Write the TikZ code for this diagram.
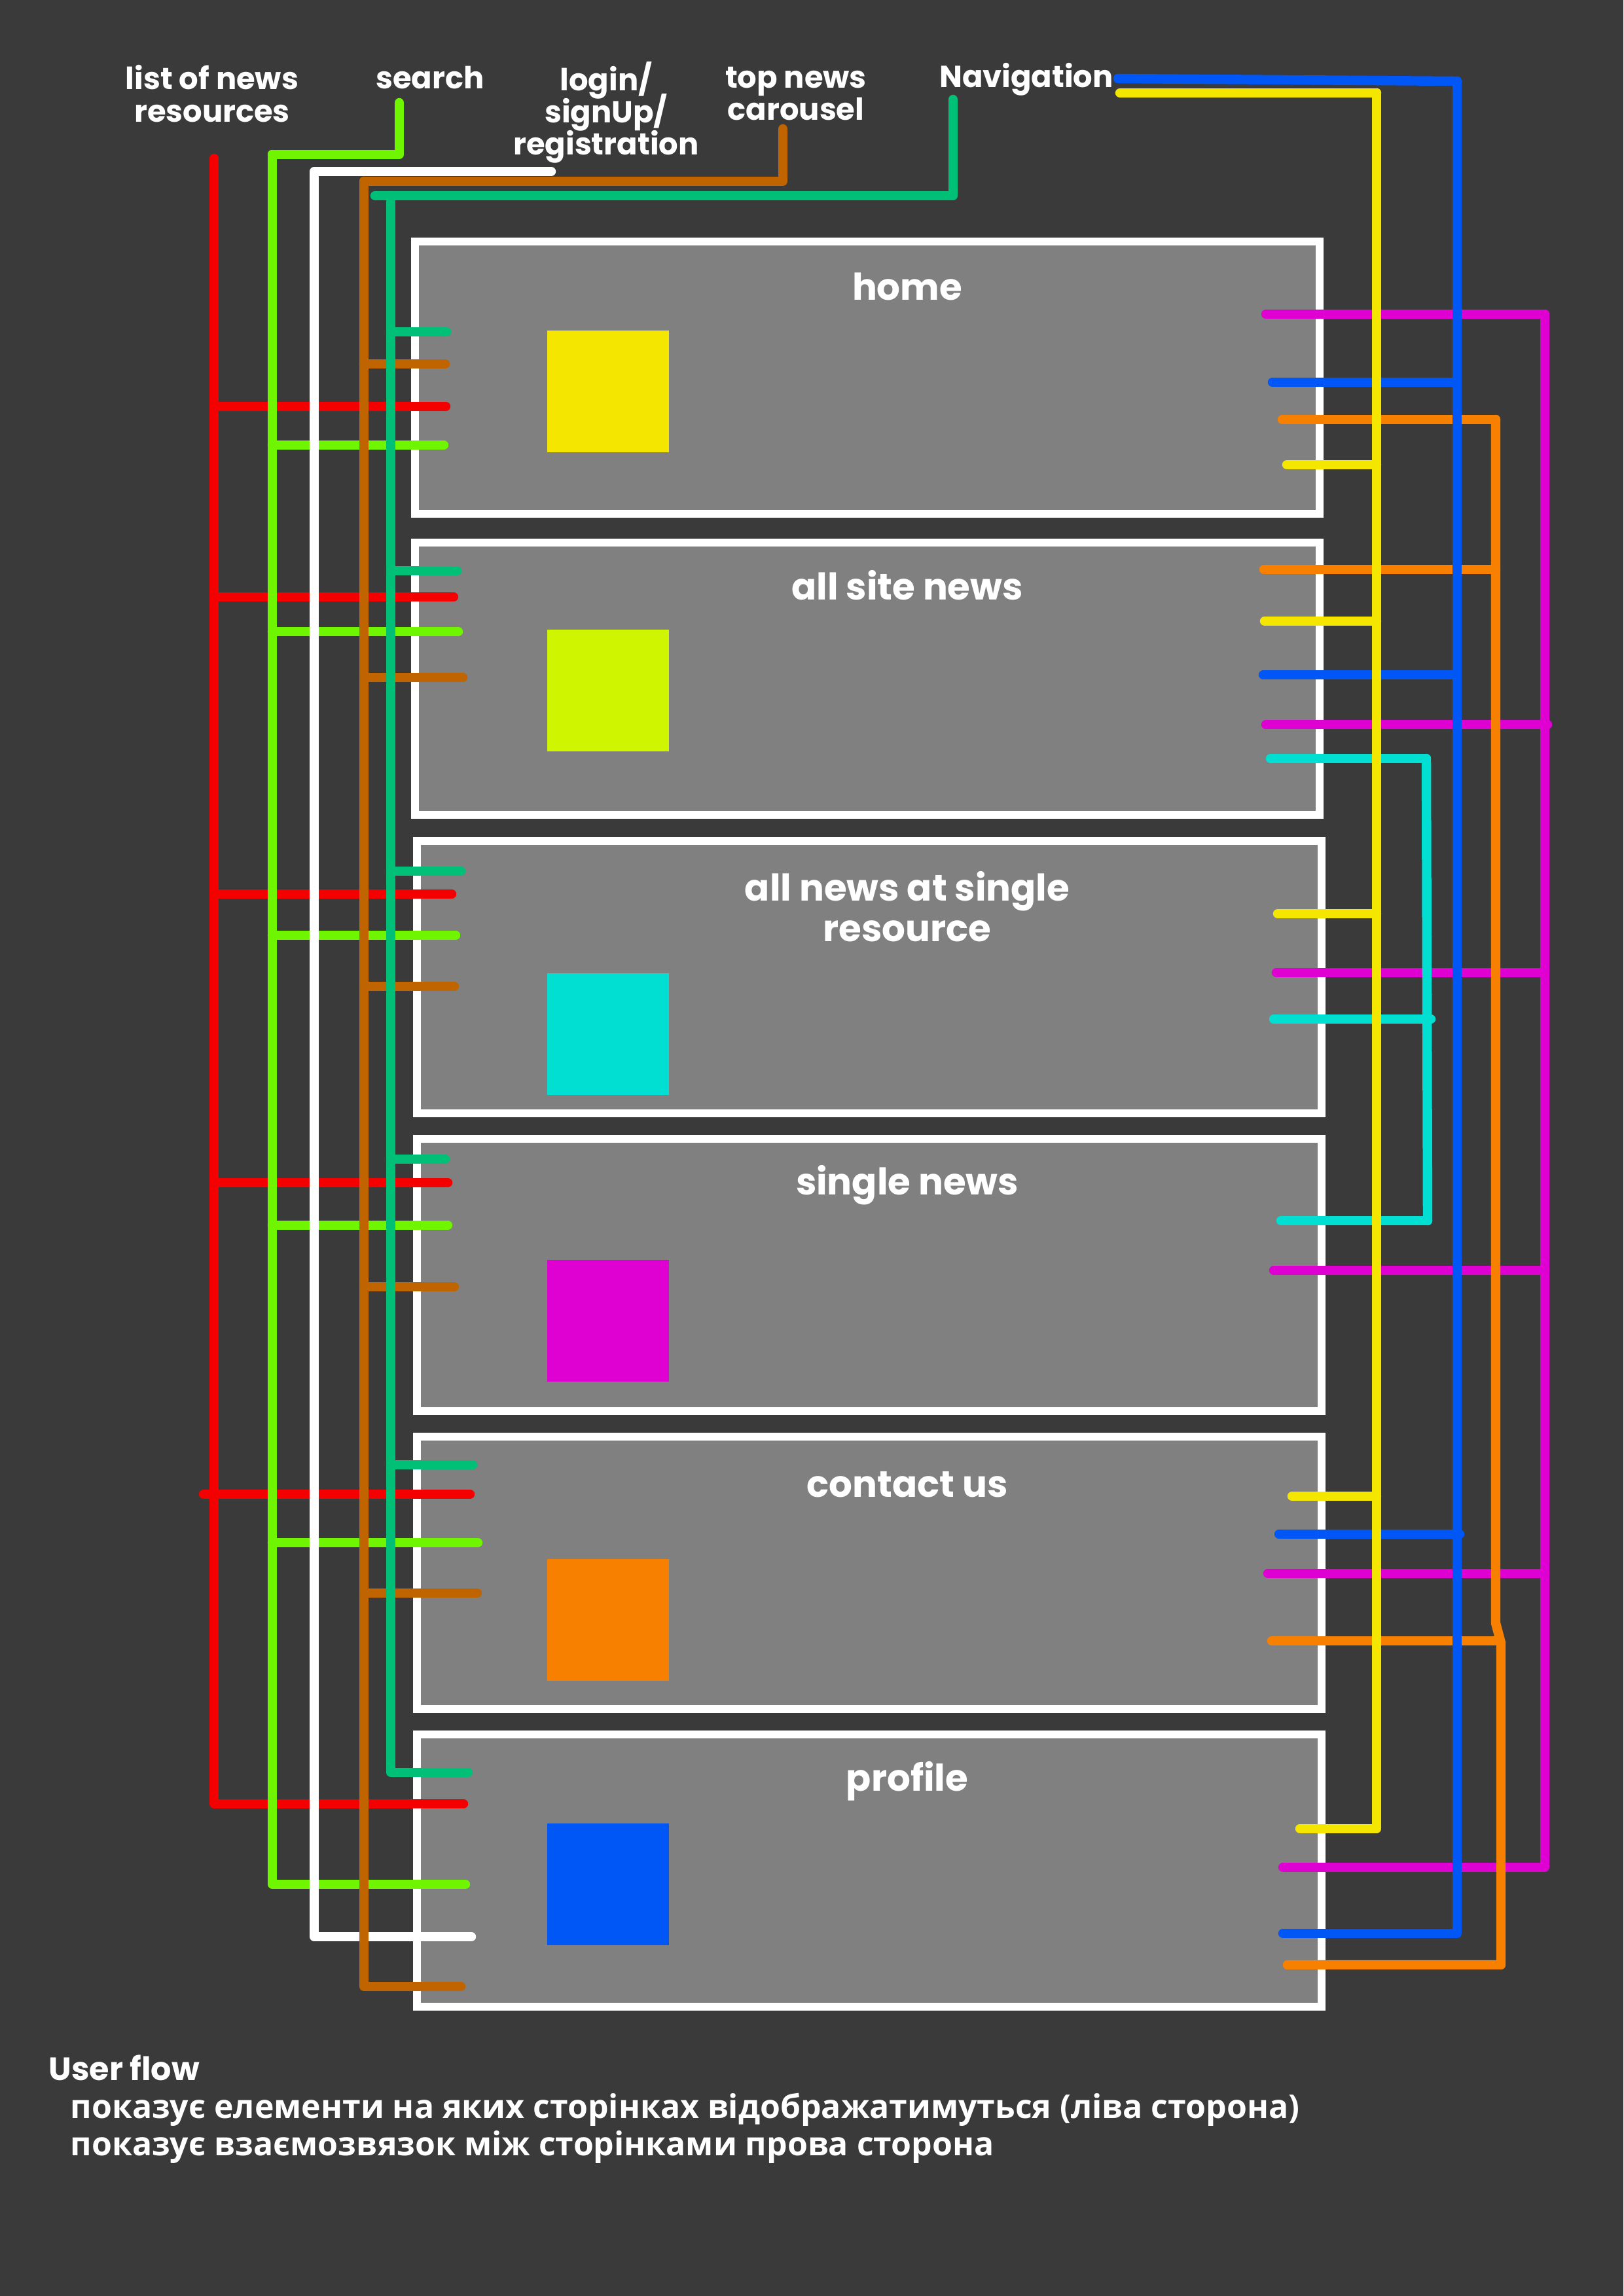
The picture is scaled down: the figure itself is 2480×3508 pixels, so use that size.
\documentclass[tikz,border=0pt]{standalone}
\usepackage{fontspec}
\setmainfont{Poppins}
\newfontfamily\cyrfont{Open Sans}
\newcommand\tightskip{\lineskiplimit-20pt\relax}
\definecolor{bgdark}{HTML}{3A3A3A}
\definecolor{pagegray}{HTML}{808080}
\definecolor{linkred}{HTML}{F50000}
\definecolor{linklime}{HTML}{6FF500}
\definecolor{linkbrown}{HTML}{C06400}
\definecolor{linkgreen}{HTML}{00C078}
\definecolor{linkyellow}{HTML}{F5E600}
\definecolor{linkblue}{HTML}{0057F5}
\definecolor{linkorange}{HTML}{F78000}
\definecolor{linkcyan}{HTML}{00DFD2}
\definecolor{linkmagenta}{HTML}{DF00D2}
\definecolor{linkchart}{HTML}{D0F500}

\begin{document}
\begin{tikzpicture}[x=0.01cm, y=-0.01cm,
  page/.style={draw=white, line width=3.4pt, fill=pagegray, minimum width=13.82cm, minimum height=4.15cm},
  icon/.style={minimum size=1.86cm, inner sep=0pt},
  title/.style={text=white, font=\fontsize{16}{17.5}\selectfont\bfseries, align=center, inner sep=0pt},
  toplbl/.style={text=white, font=\fontsize{13.2}{14}\selectfont\bfseries\tightskip, align=center, inner sep=0pt},
  note/.style={text=white, anchor=base west, inner sep=0pt},
  wire/.style={line width=4.1pt, line cap=round, line join=round}]
  % Background
  \fill[bgdark] (0,0) rectangle (2480,3508);
  \useasboundingbox (0,0) rectangle (2480,3508);

  % Top labels
  \node[toplbl] (resources) at (324,143) {list of news\\resources};
  \node[toplbl] (search) at (657,119) {search};
  \node[toplbl] (login) at (926,172) {login/\\signUp/\\registration};
  \node[toplbl] (carousel) at (1216,143) {top news\\carousel};
  \node[toplbl] (navigation) at (1568,121) {Navigation};

  % Pages
  \node[page] (home) at (1325,577) {};
  \node[page] (allnews) at (1325,1037) {};
  \node[page] (resnews) at (1328,1493) {};
  \node[page] (single) at (1328,1948) {};
  \node[page] (contact) at (1328,2403) {};
  \node[page] (profile) at (1328,2858) {};

  \node[icon, fill=linkyellow] (homeicon) at (929,598) {};
  \node[icon, fill=linkchart] (allnewsicon) at (929,1055) {};
  \node[icon, fill=linkcyan] (resnewsicon) at (929,1580) {};
  \node[icon, fill=linkmagenta] (singleicon) at (929,2018) {};
  \node[icon, fill=linkorange] (contacticon) at (929,2475) {};
  \node[icon, fill=linkblue] (profileicon) at (929,2879) {};

  \node[title] (hometitle) at (1386,438) {home};
  \node[title] (allnewstitle) at (1386,894) {all site news};
  \node[title] (resnewstitle) at (1386,1385) {all news at single\\resource};
  \node[title] (singletitle) at (1386,1811) {single news};
  \node[title] (contacttitle) at (1386,2268) {contact us};
  \node[title] (profiletitle) at (1386,2721) {profile};

  % Left: list of news resources
  \draw[wire, linkred] (327,621) -- (681,621);
  \draw[wire, linkred] (327,912) -- (693,912);
  \draw[wire, linkred] (327,1366) -- (690,1366);
  \draw[wire, linkred] (327,1807) -- (684,1807);
  \draw[wire, linkred] (311,2283) -- (718,2283);
  \draw[wire, linkred] (327,242) -- (327,2756) -- (708,2756);

  % Left: search
  \draw[wire, linklime] (610,157) -- (610,236) -- (416,236);
  \draw[wire, linklime] (416,680) -- (678,680);
  \draw[wire, linklime] (416,965) -- (700,965);
  \draw[wire, linklime] (416,1429) -- (696,1429);
  \draw[wire, linklime] (416,1872) -- (684,1872);
  \draw[wire, linklime] (416,2357) -- (730,2357);
  \draw[wire, linklime] (416,236) -- (416,2879) -- (711,2879);

  % Left: login
  \draw[wire, white] (842,262) -- (480,262) -- (480,2959) -- (720,2959);

  % Left: top news carousel
  \draw[wire, linkbrown] (1196,197) -- (1196,277) -- (556,277);
  \draw[wire, linkbrown] (556,556) -- (680,556);
  \draw[wire, linkbrown] (556,1035) -- (707,1035);
  \draw[wire, linkbrown] (556,1507) -- (694,1507);
  \draw[wire, linkbrown] (556,1966) -- (694,1966);
  \draw[wire, linkbrown] (556,2434) -- (729,2434);
  \draw[wire, linkbrown] (556,277) -- (556,3035) -- (704,3035);

  % Left: navigation to pages
  \draw[wire, linkgreen] (1456,152) -- (1456,299) -- (573,299);
  \draw[wire, linkgreen] (597,507) -- (682,507);
  \draw[wire, linkgreen] (597,872) -- (698,872);
  \draw[wire, linkgreen] (597,1331) -- (704,1331);
  \draw[wire, linkgreen] (597,1771) -- (680,1771);
  \draw[wire, linkgreen] (597,2238) -- (722,2238);
  \draw[wire, linkgreen] (597,299) -- (597,2708) -- (715,2708);

  % Right: links to single news
  \draw[wire, linkmagenta] (1934,480) -- (2360,480);
  \draw[wire, linkmagenta] (1934,1107) -- (2364,1107);
  \draw[wire, linkmagenta] (1950,1486) -- (2360,1486);
  \draw[wire, linkmagenta] (1946,1941) -- (2360,1941);
  \draw[wire, linkmagenta] (1937,2404) -- (2360,2404);
  \draw[wire, linkmagenta] (2360,480) -- (2360,2853) -- (1960,2853);

  % Right: links to contact us
  \draw[wire, linkorange] (1959,641) -- (2285,641);
  \draw[wire, linkorange] (1931,870) -- (2285,870);
  \draw[wire, linkorange] (1943,2507) -- (2290,2507);
  \draw[wire, linkorange] (2285,641) -- (2285,2480) -- (2293,2510) -- (2293,3002) -- (1967,3002);

  % Right: links to profile
  \draw[wire, linkblue] (1708,120) -- (2226,124);
  \draw[wire, linkblue] (1944,584) -- (2226,584);
  \draw[wire, linkblue] (1930,1031) -- (2226,1031);
  \draw[wire, linkblue] (1954,2344) -- (2230,2344);
  \draw[wire, linkblue] (2226,124) -- (2226,2954) -- (1960,2954);

  % Right: links to single resource
  \draw[wire, linkcyan] (1941,1159) -- (2179,1159);
  \draw[wire, linkcyan] (1946,1557) -- (2186,1557);
  \draw[wire, linkcyan] (1957,1865) -- (2181,1865);
  \draw[wire, linkcyan] (2179,1159) -- (2181,1865);

  % Right: links to home
  \draw[wire, linkyellow] (1711,142) -- (2103,142);
  \draw[wire, linkyellow] (1966,710) -- (2103,710);
  \draw[wire, linkyellow] (1932,949) -- (2103,949);
  \draw[wire, linkyellow] (1952,1396) -- (2103,1396);
  \draw[wire, linkyellow] (1974,2286) -- (2103,2286);
  \draw[wire, linkyellow] (2103,142) -- (2103,2794) -- (1986,2794);

  % Notes
  \node[note, font=\fontsize{14}{16}\selectfont\bfseries] (flowtitle) at (74,3178) {User flow};
  \node[note, font=\fontsize{14.2}{16}\selectfont\cyrfont\bfseries] (flowleft) at (107,3236) {показує елементи на яких сторінках відображатимуться (ліва сторона)};
  \node[note, font=\fontsize{14.2}{16}\selectfont\cyrfont\bfseries] (flowright) at (107,3293) {показує взаємозвязок між сторінками прова сторона};
\end{tikzpicture}
\end{document}
